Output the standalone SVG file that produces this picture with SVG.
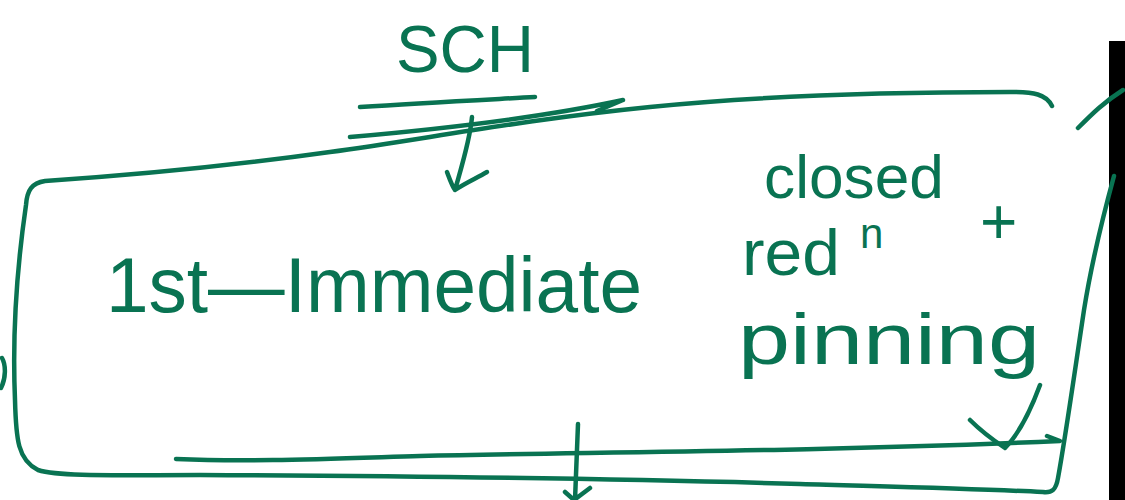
<svg xmlns="http://www.w3.org/2000/svg" width="1125" height="500" viewBox="0 0 1125 500">
<style>
.s{fill:none;stroke:#097352;stroke-width:4.5;stroke-linecap:round;stroke-linejoin:round}
.t{fill:#097352;font-family:"Liberation Sans",Arial,sans-serif}
</style>
<rect width="1125" height="500" fill="#ffffff"/>
<rect x="1109" y="41" width="16" height="459" fill="#000000"/>
<g id="box">
<path class="s" d="M1052,106 C1046,94 1034,92 1010,92 C900,92 760,96 650,107 C520,120 420,140 330,152 C230,166 120,176 45,181 C32,183 27,190 26,205 C18,260 12,330 15,400 C16,440 18,460 38,470 C60,477 120,475 200,475 C400,476 600,478 800,484 C900,487 980,489 1043,492 C1052,493 1056,490 1058,478 C1065,440 1072,390 1084,310 C1092,260 1102,220 1114,176"/>
<path class="s" d="M2,358 C6,365 6,378 1,388"/>
</g>
<g id="sch">
<text class="t" x="396" y="72" font-size="66" textLength="138" lengthAdjust="spacingAndGlyphs">SCH</text>
<path class="s" d="M360,107 C420,103 480,100 535,97"/>
<path class="s" d="M350,137 C430,130 540,118 623,100 L597,111"/>
</g>
<g id="main">
<text class="t" x="106" y="312" font-size="78" textLength="536" lengthAdjust="spacingAndGlyphs">1st—Immediate</text>
</g>
<g id="note">
<text class="t" x="764" y="198" font-size="62" textLength="180" lengthAdjust="spacingAndGlyphs">closed</text>
<text class="t" x="742" y="275" font-size="64" textLength="98" lengthAdjust="spacingAndGlyphs">red</text>
<text class="t" x="860" y="248" font-size="42">n</text>
<text class="t" x="980" y="244" font-size="64">+</text>
<text class="t" x="738" y="364" font-size="72" textLength="302" lengthAdjust="spacingAndGlyphs">pinning</text>
</g>
<g id="connectors">
<path class="s" d="M472,117 C470,140 462,165 455,190 M447,172 C450,180 452,186 455,190 C465,183 477,178 487,172"/>
<path class="s" d="M176,459 C250,462 320,459 420,456 C600,452 800,452 1060,441 L1047,436"/>
<path class="s" d="M1040,385 C1030,412 1018,435 1005,448 M970,420 C982,432 993,440 1005,448"/>
<path class="s" d="M578,424 C577,450 576,475 575,500 M565,492 L574,500 L590,488"/>
<path class="s" d="M1078,128 C1092,114 1104,102 1123,90"/>
</g>
</svg>
